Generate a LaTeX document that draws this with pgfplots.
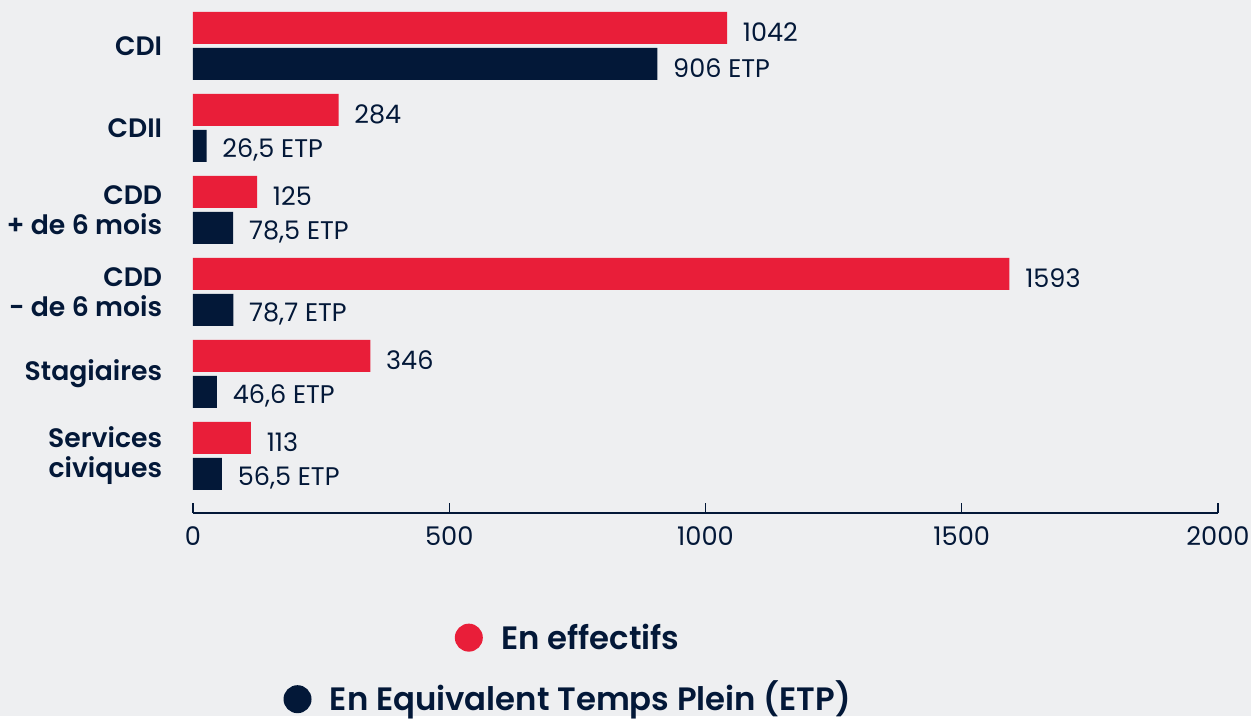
\documentclass[border=0pt]{standalone}
\usepackage{pgfplots}
\pgfplotsset{compat=1.18}
\usepackage{fontspec}
\setmainfont{Poppins}[BoldFont={Poppins SemiBold}]
\definecolor{bg}{HTML}{EEEFF1}
\definecolor{myred}{HTML}{E91E39}
\definecolor{navy}{HTML}{031838}

\begin{document}
\begin{tikzpicture}[x=1pt,y=1pt]
% background, 1 px = 0.6pt
\fill[bg] (-115.8,-121.8) rectangle (634.8,307.8);
\begin{axis}[
    at={(0,0)}, anchor=south west,
    scale only axis, width=615pt, height=307.8pt,
    xmin=0, xmax=2000, ymin=-0.696, ymax=5.56,
    xbar, bar shift=0pt, bar width=0.39,
    axis x line*=bottom, axis y line*=left,
    y axis line style={draw=none},
    ytick={0,...,5}, ytick style={draw=none},
    yticklabels={{Services\\civiques},Stagiaires,{CDD\\- de 6 mois},{CDD\\+ de 6 mois},CDII,CDI},
    yticklabel style={align=right, font=\fontsize{16}{18}\selectfont\bfseries, text=navy, xshift=-15pt},
    xtick={0,500,...,2000},
    tick align=inside, major tick length=6pt,
    x axis line style={navy, line width=1.2pt},
    xtick style={navy, line width=0.8pt},
    xticklabel style={font=\fontsize{15.4}{18}\selectfont, text=navy, inner xsep=0pt, yshift=-4.5pt},
    /pgf/number format/assume math mode=true,
    /pgf/number format/1000 sep={},
    nodes near coords, point meta=explicit symbolic,
    nodes near coords style={anchor=west, xshift=6pt, yshift=-2.5pt, font=\fontsize{15.3}{17}\selectfont, text=navy},
    clip=false,
    legend cell align=center,
    legend style={at={(axis cs:730,-1.96)}, anchor=north, draw=none, fill=none,
        row sep=13.5pt, font=\fontsize{19.4}{23}\selectfont\bfseries, text=navy},
]
\addplot[fill=myred, draw=none, forget plot] coordinates {
(113,0.22)[113] (346,1.22)[346] (1593,2.22)[1593] (125,3.22)[125] (284,4.22)[284] (1042,5.22)[1042]
};
\addplot[fill=navy, draw=none, forget plot] coordinates {
(56.5,-0.22)[56,5 ETP] (46.6,0.78)[46,6 ETP] (78.7,1.78)[78,7 ETP] (78.5,2.78)[78,5 ETP] (26.5,3.78)[26,5 ETP] (906,4.78)[906 ETP]
};
\addlegendimage{empty legend}
\addlegendentry{\tikz[baseline={(0,-7pt)}]\fill[myred] (0,0) circle (8.4pt);\hspace{11pt}En effectifs}
\addlegendimage{empty legend}
\addlegendentry{\tikz[baseline={(0,-7pt)}]\fill[navy] (0,0) circle (8.4pt);\hspace{11pt}En Equivalent Temps Plein (ETP)}
\end{axis}
\end{tikzpicture}
\end{document}
